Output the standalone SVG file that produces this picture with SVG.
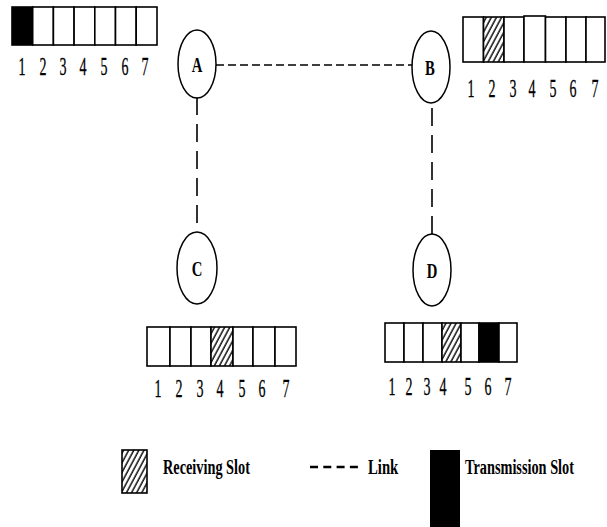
<svg xmlns="http://www.w3.org/2000/svg" width="607" height="527" viewBox="0 0 607 527">
  <defs>
    <pattern id="hatch" patternUnits="userSpaceOnUse" width="4.5" height="6" patternTransform="rotate(28)">
      <rect width="4.5" height="6" fill="#fff"/>
      <line x1="1" y1="0" x2="1" y2="6" stroke="#000" stroke-width="1.4"/>
    </pattern>
  </defs>
  <style>
    .node { fill: #fff; stroke: #000; stroke-width: 1.5; }
    .lbl { font-family: "Liberation Serif", "Times New Roman", serif; font-weight: bold; font-size: 21px; text-anchor: middle; }
    .slot { fill: #fff; stroke: #000; stroke-width: 1.6; }
    .rx { fill: url(#hatch); stroke: #000; stroke-width: 1.6; }
    .tx { fill: #000; stroke: #000; stroke-width: 1.6; }
    .num { font-family: "Liberation Serif", "Times New Roman", serif; font-size: 25px; text-anchor: middle; stroke: #000; stroke-width: 0.3; }
    .link { fill: none; stroke: #000; stroke-width: 1.6; }
    .leg { font-family: "Liberation Serif", "Times New Roman", serif; font-weight: bold; font-size: 22px; }
  </style>

  <!-- connectors between nodes -->
  <g id="links">
    <line class="link" x1="216" y1="65" x2="413" y2="65" stroke-width="2.8" stroke-dasharray="8 4"/>
    <line class="link" x1="197" y1="97" x2="197" y2="232" stroke-dasharray="18 9"/>
    <line class="link" x1="432" y1="234" x2="432" y2="103" stroke-dasharray="18 9"/>
  </g>

  <!-- node A with its slot frame -->
  <g id="node-A">
    <ellipse class="node" cx="197" cy="64" rx="19" ry="34"/>
    <text class="lbl" transform="translate(197,72) scale(0.7,1)">A</text>
    <g id="frame-A">
      <rect class="tx" x="12" y="7" width="20.7" height="38"/>
      <rect class="slot" x="32.7" y="7" width="20.7" height="38"/>
      <rect class="slot" x="53.4" y="7" width="20.7" height="38"/>
      <rect class="slot" x="74.1" y="7" width="20.7" height="38"/>
      <rect class="slot" x="94.8" y="7" width="20.7" height="38"/>
      <rect class="slot" x="115.5" y="7" width="20.7" height="38"/>
      <rect class="slot" x="136.2" y="7" width="20.8" height="38"/>
      <g class="num">
        <text transform="translate(22,75) scale(0.56,1)">1</text>
        <text transform="translate(43,75) scale(0.56,1)">2</text>
        <text transform="translate(63,75) scale(0.56,1)">3</text>
        <text transform="translate(83,75) scale(0.56,1)">4</text>
        <text transform="translate(104,75) scale(0.56,1)">5</text>
        <text transform="translate(125,75) scale(0.56,1)">6</text>
        <text transform="translate(145,75) scale(0.56,1)">7</text>
      </g>
    </g>
  </g>

  <!-- node B with its slot frame -->
  <g id="node-B">
    <ellipse class="node" cx="431" cy="67" rx="19" ry="36"/>
    <text class="lbl" transform="translate(430,75) scale(0.7,1)">B</text>
    <g id="frame-B">
      <rect class="slot" x="463" y="17" width="20.5" height="45"/>
      <rect class="rx" x="483.5" y="17" width="20.5" height="45"/>
      <rect class="slot" x="504" y="17" width="20" height="45"/>
      <rect class="slot" x="524" y="16" width="21.5" height="46"/>
      <rect class="slot" x="545.5" y="17" width="20.5" height="45"/>
      <rect class="slot" x="566" y="17" width="20" height="45"/>
      <rect class="slot" x="586" y="17" width="19" height="45"/>
      <g class="num">
        <text transform="translate(471,97) scale(0.56,1)">1</text>
        <text transform="translate(492,97) scale(0.56,1)">2</text>
        <text transform="translate(513,97) scale(0.56,1)">3</text>
        <text transform="translate(532,97) scale(0.56,1)">4</text>
        <text transform="translate(553,97) scale(0.56,1)">5</text>
        <text transform="translate(573,97) scale(0.56,1)">6</text>
        <text transform="translate(595,97) scale(0.56,1)">7</text>
      </g>
    </g>
  </g>

  <!-- node C with its slot frame -->
  <g id="node-C">
    <ellipse class="node" cx="197" cy="268" rx="20" ry="36"/>
    <text class="lbl" transform="translate(197,276) scale(0.7,1)">C</text>
    <g id="frame-C">
      <rect class="slot" x="147" y="327" width="23" height="39"/>
      <rect class="slot" x="170" y="327" width="21" height="39"/>
      <rect class="slot" x="191" y="327" width="20" height="39"/>
      <rect class="rx" x="211" y="327" width="22" height="39"/>
      <rect class="slot" x="233" y="327" width="20" height="39"/>
      <rect class="slot" x="253" y="327" width="22" height="39"/>
      <rect class="slot" x="275" y="327" width="21" height="39"/>
      <g class="num">
        <text transform="translate(158,397) scale(0.56,1)">1</text>
        <text transform="translate(179,397) scale(0.56,1)">2</text>
        <text transform="translate(200,397) scale(0.56,1)">3</text>
        <text transform="translate(220,397) scale(0.56,1)">4</text>
        <text transform="translate(242,397) scale(0.56,1)">5</text>
        <text transform="translate(262,397) scale(0.56,1)">6</text>
        <text transform="translate(286,397) scale(0.56,1)">7</text>
      </g>
    </g>
  </g>

  <!-- node D with its slot frame -->
  <g id="node-D">
    <ellipse class="node" cx="432" cy="270" rx="19" ry="36"/>
    <text class="lbl" transform="translate(432,278) scale(0.7,1)">D</text>
    <g id="frame-D">
      <rect class="slot" x="385" y="323" width="19" height="39"/>
      <rect class="slot" x="404" y="323" width="19" height="39"/>
      <rect class="slot" x="423" y="323" width="19" height="39"/>
      <rect class="rx" x="442" y="323" width="19" height="39"/>
      <rect class="slot" x="461" y="323" width="18" height="39"/>
      <rect class="tx" x="479" y="323" width="20" height="39"/>
      <rect class="slot" x="499" y="323" width="18" height="39"/>
      <g class="num">
        <text transform="translate(392,395) scale(0.56,1)">1</text>
        <text transform="translate(409,395) scale(0.56,1)">2</text>
        <text transform="translate(427,395) scale(0.56,1)">3</text>
        <text transform="translate(443,395) scale(0.56,1)">4</text>
        <text transform="translate(468,395) scale(0.56,1)">5</text>
        <text transform="translate(488,395) scale(0.56,1)">6</text>
        <text transform="translate(508,395) scale(0.56,1)">7</text>
      </g>
    </g>
  </g>

  <!-- legend -->
  <g id="legend">
    <rect class="rx" x="122" y="450" width="25" height="43"/>
    <text class="leg" transform="translate(163,474) scale(0.65,1)">Receiving Slot</text>
    <line x1="310" y1="467" x2="358" y2="467" stroke="#000" stroke-width="2.4" stroke-dasharray="8 5.3"/>
    <text class="leg" transform="translate(368,474) scale(0.67,1)">Link</text>
    <rect x="430" y="450" width="30" height="77" fill="#000"/>
    <text class="leg" transform="translate(465,474) scale(0.65,1)">Transmission Slot</text>
  </g>
</svg>
